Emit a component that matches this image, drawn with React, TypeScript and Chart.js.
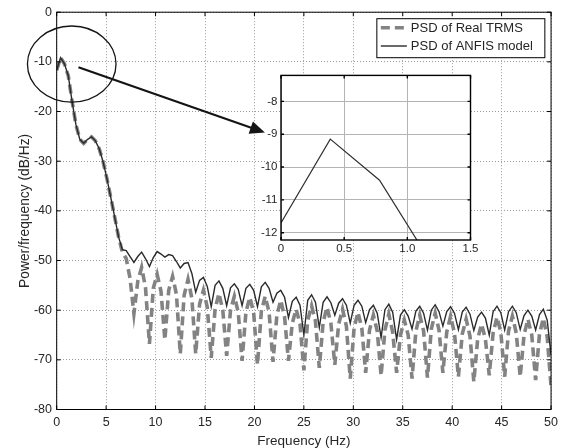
import React, { useEffect, useRef } from "react";
import { Chart, registerables } from "chart.js";

Chart.register(...registerables);

// ---------- data ----------
const FREQ_HZ = [
  0, 0.39, 0.78, 1.17, 1.56, 1.95, 2.34, 2.73,
  3.13, 3.52, 3.91, 4.3, 4.69, 5.08, 5.47, 5.86,
  6.25, 6.64, 7.03, 7.42, 7.81, 8.2, 8.59, 8.98,
  9.38, 9.77, 10.16, 10.55, 10.94, 11.33, 11.72, 12.11,
  12.5, 12.89, 13.28, 13.67, 14.06, 14.45, 14.84, 15.23,
  15.63, 16.02, 16.41, 16.8, 17.19, 17.58, 17.97, 18.36,
  18.75, 19.14, 19.53, 19.92, 20.31, 20.7, 21.09, 21.48,
  21.88, 22.27, 22.66, 23.05, 23.44, 23.83, 24.22, 24.61,
  25.0, 25.39, 25.78, 26.17, 26.56, 26.95, 27.34, 27.73,
  28.13, 28.52, 28.91, 29.3, 29.69, 30.08, 30.47, 30.86,
  31.25, 31.64, 32.03, 32.42, 32.81, 33.2, 33.59, 33.98,
  34.38, 34.77, 35.16, 35.55, 35.94, 36.33, 36.72, 37.11,
  37.5, 37.89, 38.28, 38.67, 39.06, 39.45, 39.84, 40.23,
  40.63, 41.02, 41.41, 41.8, 42.19, 42.58, 42.97, 43.36,
  43.75, 44.14, 44.53, 44.92, 45.31, 45.7, 46.09, 46.48,
  46.88, 47.27, 47.66, 48.05, 48.44, 48.83, 49.22, 49.61,
  50.0,
];

const PSD_REAL_TRMS = [
  -11.7, -9.15, -10.4, -12.8, -18.0, -22.7, -25.6, -26.4,
  -25.6, -25.1, -25.9, -27.5, -30.1, -33.5, -37.3, -41.2,
  -45.2, -48.3, -49.6, -53.6, -60.7, -54.2, -51.4, -55.4,
  -66.8, -55.6, -52.8, -56.2, -66.0, -56.0, -53.2, -56.8,
  -68.8, -57.0, -53.8, -57.6, -68.8, -58.8, -56.0, -59.4,
  -69.6, -59.8, -56.6, -60.0, -69.2, -60.0, -57.2, -60.4,
  -70.2, -60.4, -57.4, -60.4, -71.0, -60.2, -57.2, -60.4,
  -70.4, -61.0, -58.0, -61.4, -70.2, -62.6, -59.8, -62.8,
  -72.1, -62.0, -59.1, -62.2, -71.6, -62.4, -59.4, -62.6,
  -71.0, -62.8, -59.8, -63.2, -73.8, -63.6, -60.4, -63.6,
  -72.6, -64.0, -61.0, -64.2, -73.2, -64.0, -60.8, -64.4,
  -72.6, -65.0, -62.0, -65.0, -73.8, -64.2, -61.0, -64.2,
  -73.6, -63.8, -60.6, -64.0, -72.6, -64.4, -61.2, -64.6,
  -73.4, -64.8, -61.8, -65.2, -74.4, -65.8, -62.8, -65.8,
  -73.1, -64.6, -61.4, -64.4, -73.4, -64.2, -61.2, -64.6,
  -73.4, -65.0, -61.8, -65.0, -74.1, -64.8, -61.6, -65.4,
  -75.3,
];

const PSD_ANFIS = [
  -11.7, -9.15, -10.4, -12.8, -18.0, -22.7, -25.6, -26.4,
  -25.6, -25.1, -25.9, -27.5, -30.1, -33.5, -37.3, -41.2,
  -45.2, -47.8, -48.0, -49.2, -50.4, -49.2, -48.3, -49.6,
  -51.2, -49.4, -48.2, -48.7, -49.3, -48.8, -49.0, -50.2,
  -51.5, -50.6, -50.4, -52.6, -56.4, -54.0, -53.4, -55.2,
  -59.3, -55.0, -54.1, -55.6, -59.1, -55.5, -54.7, -55.8,
  -59.1, -55.6, -54.8, -56.0, -59.3, -55.3, -54.4, -55.6,
  -58.4, -56.6, -56.0, -57.4, -61.5, -58.2, -57.4, -59.0,
  -65.0, -58.0, -56.9, -58.4, -63.5, -58.4, -57.3, -58.5,
  -61.0, -58.6, -57.7, -59.0, -62.6, -59.0, -58.0, -59.2,
  -62.5, -59.9, -59.0, -60.6, -65.5, -59.9, -58.8, -60.4,
  -65.9, -61.0, -59.9, -61.2, -63.8, -60.2, -59.2, -60.6,
  -64.0, -60.0, -58.9, -60.3, -63.2, -60.3, -59.3, -60.6,
  -63.9, -60.4, -59.4, -60.8, -64.1, -61.4, -60.4, -61.6,
  -65.0, -60.3, -59.2, -60.5, -64.0, -60.3, -59.2, -60.5,
  -63.9, -61.1, -60.0, -61.2, -64.0, -60.9, -59.8, -62.0,
  -69.0,
];

const SERIES_LABELS = ["PSD of Real TRMS", "PSD of ANFIS model"];
const X_TICKS = [0, 5, 10, 15, 20, 25, 30, 35, 40, 45, 50];
const Y_TICKS = [-80, -70, -60, -50, -40, -30, -20, -10, 0];
const INSET_X_TICKS = [0, 0.5, 1, 1.5];
const INSET_Y_TICKS = [-12, -11, -10, -9, -8];
const X_TITLE = "Frequency (Hz)";
const Y_TITLE = "Power/frequency (dB/Hz)";

// zoom annotation (data units of the main axes)
const ZOOM_ELLIPSE = { f: 1.52, db: -10.44, halfHz: 4.48, halfDb: 7.66 };
const ZOOM_ARROW = { f0: 2.2, db0: -11.1, f1: 21.06, db1: -24.24 };

// ---------- styling ----------
const FONT = "'Liberation Sans', Arial, Helvetica, sans-serif";
const TEXT = "#262626";

const toPoints = (ys: number[]) => FREQ_HZ.map((f, i) => ({ x: f, y: ys[i] }));

const boxPlugin = (tickLen: number, lw: number) => ({
  id: "boxFrame",
  afterDatasetsDraw(chart: any) {
    const { ctx, chartArea: a, scales } = chart;
    ctx.save();
    ctx.strokeStyle = "#000";
    ctx.lineWidth = lw;
    ctx.beginPath();
    for (const t of scales.x.ticks) {
      const x = scales.x.getPixelForValue(t.value);
      ctx.moveTo(x, a.bottom);
      ctx.lineTo(x, a.bottom - tickLen);
      ctx.moveTo(x, a.top);
      ctx.lineTo(x, a.top + tickLen);
    }
    for (const t of scales.y.ticks) {
      const y = scales.y.getPixelForValue(t.value);
      ctx.moveTo(a.left, y);
      ctx.lineTo(a.left + tickLen, y);
      ctx.moveTo(a.right, y);
      ctx.lineTo(a.right - tickLen, y);
    }
    ctx.stroke();
    ctx.strokeRect(a.left, a.top, a.right - a.left, a.bottom - a.top);
    ctx.restore();
  },
});

const zoomMarkPlugin = {
  id: "zoomMark",
  afterDatasetsDraw(chart: any) {
    const { ctx } = chart;
    const x = chart.scales.x;
    const y = chart.scales.y;
    const cx = x.getPixelForValue(ZOOM_ELLIPSE.f);
    const cy = y.getPixelForValue(ZOOM_ELLIPSE.db);
    const rx = Math.abs(x.getPixelForValue(ZOOM_ELLIPSE.f + ZOOM_ELLIPSE.halfHz) - cx);
    const ry = Math.abs(y.getPixelForValue(ZOOM_ELLIPSE.db + ZOOM_ELLIPSE.halfDb) - cy);
    ctx.save();
    ctx.strokeStyle = "#141414";
    ctx.lineWidth = 1.3;
    ctx.beginPath();
    ctx.ellipse(cx, cy, rx, ry, 0, 0, Math.PI * 2);
    ctx.stroke();

    const x0 = x.getPixelForValue(ZOOM_ARROW.f0);
    const y0 = y.getPixelForValue(ZOOM_ARROW.db0);
    const x1 = x.getPixelForValue(ZOOM_ARROW.f1);
    const y1 = y.getPixelForValue(ZOOM_ARROW.db1);
    const ang = Math.atan2(y1 - y0, x1 - x0);
    const headLen = 15;
    const headHalf = 6.5;
    const bx = x1 - headLen * Math.cos(ang);
    const by = y1 - headLen * Math.sin(ang);
    ctx.lineWidth = 2.2;
    ctx.beginPath();
    ctx.moveTo(x0, y0);
    ctx.lineTo(bx + 2 * Math.cos(ang), by + 2 * Math.sin(ang));
    ctx.stroke();
    ctx.fillStyle = "#141414";
    ctx.beginPath();
    ctx.moveTo(x1, y1);
    ctx.lineTo(bx + headHalf * Math.sin(ang), by - headHalf * Math.cos(ang));
    ctx.lineTo(bx - headHalf * Math.sin(ang), by + headHalf * Math.cos(ang));
    ctx.closePath();
    ctx.fill();
    ctx.restore();
  },
};

const legendPlugin = {
  id: "boxLegend",
  afterDraw(chart: any) {
    const { ctx, chartArea: a } = chart;
    const w = 168;
    const h = 39;
    const right = a.right - 6.2;
    const top = a.top + 6.5;
    const left = right - w;
    ctx.save();
    ctx.fillStyle = "#fff";
    ctx.fillRect(left, top, w, h);
    ctx.strokeStyle = "#000";
    ctx.lineWidth = 1;
    ctx.strokeRect(left, top, w, h);
    const rows = [0, 1].map((i) => chart.data.datasets[i]);
    rows.forEach((ds: any, i: number) => {
      const yy = top + 9 + i * 18.3;
      ctx.save();
      ctx.strokeStyle = ds.borderColor;
      ctx.lineWidth = ds.borderWidth;
      ctx.setLineDash(ds.borderDash || []);
      ctx.beginPath();
      ctx.moveTo(left + 4, yy);
      ctx.lineTo(left + 30, yy);
      ctx.stroke();
      ctx.restore();
      ctx.fillStyle = TEXT;
      ctx.font = `13px ${FONT}`;
      ctx.textAlign = "left";
      ctx.textBaseline = "middle";
      ctx.fillText(ds.label, left + 34, yy + 0.5);
    });
    ctx.restore();
  },
};

const whitePlotBg = {
  id: "whitePlotBg",
  beforeDraw(chart: any) {
    const { ctx, chartArea: a } = chart;
    ctx.save();
    ctx.fillStyle = "#fff";
    ctx.fillRect(a.left, a.top, a.right - a.left, a.bottom - a.top);
    ctx.restore();
  },
};

export default function App() {
  const mainRef = useRef<HTMLCanvasElement | null>(null);
  const insetRef = useRef<HTMLCanvasElement | null>(null);

  useEffect(() => {
    if (!mainRef.current || !insetRef.current) return;

    const main = new Chart(mainRef.current, {
      type: "line",
      data: {
        datasets: [
          {
            label: SERIES_LABELS[0],
            data: toPoints(PSD_REAL_TRMS),
            borderColor: "#838383",
            borderWidth: 3.6,
            borderDash: [9, 5],
            borderCapStyle: "butt",
            pointRadius: 0,
            fill: false,
            tension: 0,
            order: 2,
          },
          {
            label: SERIES_LABELS[1],
            data: toPoints(PSD_ANFIS),
            borderColor: "#2a2a2a",
            borderWidth: 1.4,
            pointRadius: 0,
            fill: false,
            tension: 0,
            order: 1,
          },
        ],
      } as any,
      options: {
        animation: false,
        responsive: false,
        maintainAspectRatio: false,
        events: [],
        layout: { padding: { left: 0, top: 9.5, right: 12.8, bottom: 0 } },
        plugins: { legend: { display: false }, tooltip: { enabled: false } },
        scales: {
          x: {
            type: "linear",
            min: 0,
            max: 50,
            afterBuildTicks: (s: any) => {
              s.ticks = X_TICKS.map((v) => ({ value: v }));
            },
            afterFit: (s: any) => {
              s.height = 38.5;
            },
            grid: { color: "#9a9a9a", lineWidth: 1, drawTicks: false },
            border: { display: false, dash: [1, 2] },
            ticks: {
              padding: 6,
              autoSkip: false,
              maxRotation: 0,
              color: TEXT,
              font: { family: FONT, size: 12.5 },
            },
            title: {
              display: true,
              text: X_TITLE,
              color: TEXT,
              font: { family: FONT, size: 13.5, lineHeight: 1 },
              padding: { top: 0, bottom: 0.3 },
            },
          },
          y: {
            type: "linear",
            min: -80,
            max: 0,
            afterBuildTicks: (s: any) => {
              s.ticks = Y_TICKS.map((v) => ({ value: v }));
            },
            afterFit: (s: any) => {
              s.width = 56.7;
            },
            grid: { color: "#9a9a9a", lineWidth: 1, drawTicks: false },
            border: { display: false, dash: [1, 2] },
            ticks: {
              padding: 4.7,
              autoSkip: false,
              color: TEXT,
              font: { family: FONT, size: 12.5 },
            },
            title: {
              display: true,
              text: Y_TITLE,
              color: TEXT,
              font: { family: FONT, size: 13.8, lineHeight: 1 },
              padding: { top: 18, bottom: 0 },
            },
          },
        },
      } as any,
      plugins: [boxPlugin(4, 1), zoomMarkPlugin, legendPlugin],
    });

    const inset = new Chart(insetRef.current, {
      type: "line",
      data: {
        datasets: [
          {
            label: SERIES_LABELS[1],
            data: toPoints(PSD_ANFIS),
            borderColor: "#303030",
            borderWidth: 1.2,
            pointRadius: 0,
            fill: false,
            tension: 0,
          },
        ],
      } as any,
      options: {
        animation: false,
        responsive: false,
        maintainAspectRatio: false,
        events: [],
        layout: { padding: { left: 0, top: 6.7, right: 8.3, bottom: 0 } },
        plugins: { legend: { display: false }, tooltip: { enabled: false } },
        scales: {
          x: {
            type: "linear",
            min: 0,
            max: 1.5,
            afterBuildTicks: (s: any) => {
              s.ticks = INSET_X_TICKS.map((v) => ({ value: v }));
            },
            afterFit: (s: any) => {
              s.height = 20;
            },
            grid: { color: "#b4b4b4", lineWidth: 1, drawTicks: false },
            border: { display: false },
            ticks: {
              padding: 1.5,
              autoSkip: false,
              maxRotation: 0,
              color: TEXT,
              font: { family: FONT, size: 11.5 },
            },
          },
          y: {
            type: "linear",
            min: -12.22,
            max: -7.21,
            afterBuildTicks: (s: any) => {
              s.ticks = INSET_Y_TICKS.map((v) => ({ value: v }));
            },
            afterFit: (s: any) => {
              s.width = 31;
            },
            grid: { color: "#b4b4b4", lineWidth: 1, drawTicks: false },
            border: { display: false },
            ticks: {
              padding: 3.5,
              autoSkip: false,
              color: TEXT,
              font: { family: FONT, size: 11.5 },
            },
          },
        },
      } as any,
      plugins: [whitePlotBg, boxPlugin(3, 1.4)],
    });

    return () => {
      main.destroy();
      inset.destroy();
    };
  }, []);

  return (
    <div style={{ position: "absolute", left: 0, top: 0, width: 564, height: 448, background: "#fff" }}>
      <canvas
        ref={mainRef}
        width={564}
        height={448}
        style={{ position: "absolute", left: 0, top: 0, width: 564, height: 448 }}
      />
      <canvas
        ref={insetRef}
        width={230}
        height={195}
        style={{ position: "absolute", left: 250, top: 65, width: 230, height: 195 }}
      />
    </div>
  );
}
